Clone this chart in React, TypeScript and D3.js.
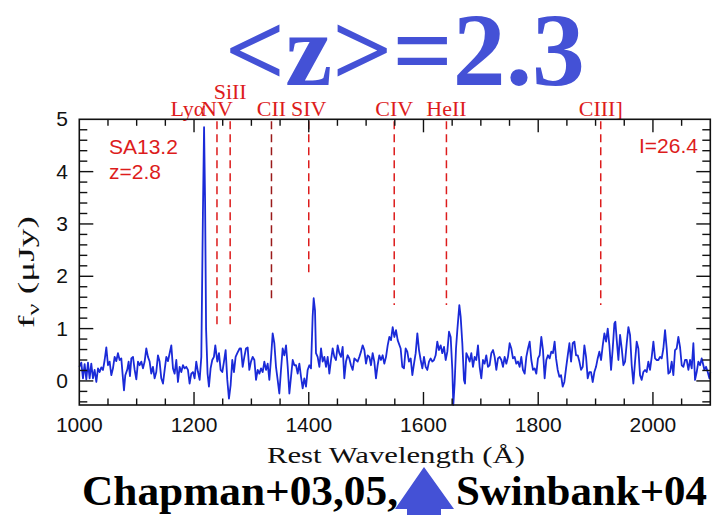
import React from "react";
import * as d3 from "d3";

// Spectrum: [rest wavelength (Å), f_nu (μJy)]
const SPECTRUM: [number, number][] = [
  [1000,0.27],[1003.5,0.35],[1006.4,0.05],[1009.3,0.32],[1012.2,0.03],[1015.1,0.35],[1018,0.05],[1020.9,0.33],[1023.8,0.05],[1026.7,0.21],
  [1029.7,-0.02],[1032.6,0.24],[1035.5,0.17],[1038.4,0.26],[1041.3,0.21],[1044.2,0.40],[1047.1,0.64],[1050,0.30],[1052.9,0.37],[1055.8,0.11],
  [1058.7,0.24],[1061.6,0.46],[1064.5,0.38],[1067.4,0.53],[1070.3,0.40],[1073.2,0.43],[1076.1,0.05],[1077.9,-0.18],[1080.2,0.11],[1083.7,0.22],
  [1086,0.37],[1088.3,0.09],[1090.7,0.43],[1093.6,0.46],[1096.5,0.21],[1099.4,0.03],[1102.3,0.37],[1105.2,0.30],[1108.1,0.37],[1111,0.24],
  [1113.9,0.37],[1116.8,0.62],[1119.7,0.46],[1122.6,0.37],[1125.5,0.14],[1128.4,0.27],[1131.3,0.05],[1134.2,0.17],[1137.1,0.49],[1140,0.37],
  [1142.9,0.05],[1145.9,-0.05],[1148.8,0.21],[1151.7,0.46],[1154.6,0.38],[1157.5,0.53],[1160.4,0.68],[1163.3,0.24],[1166.2,0.14],[1169.1,0.40],
  [1172,-0.02],[1174.9,0.27],[1177.8,0.17],[1180.7,0.30],[1183.6,0.24],[1186.5,0.27],[1189.4,0.21],[1192.3,-0.05],[1195.2,0.14],[1198.1,0.17],
  [1201,0.05],[1203.9,0.37],[1206.9,0.17],[1209.8,0.02],[1212.7,0.46],[1215.5,3.2],[1217.5,4.85],[1219.3,3.4],[1221,1.0],[1223.6,0.14],
  [1226,-0.11],[1228.9,0.24],[1231.8,0.40],[1234.7,0.46],[1237.1,0.68],[1240.6,0.37],[1243.5,0.53],[1246.4,0.21],[1249.3,0.17],[1252.2,0.37],
  [1255.1,0.59],[1258,0.02],[1260.9,-0.34],[1263.8,-0.08],[1266.7,0.40],[1269.6,0.17],[1272.5,0.46],[1275.4,0.53],[1279.5,0.62],
  [1281.9,0.62],[1284.8,0.27],[1287.7,0.46],[1290.6,0.62],[1293.5,0.64],[1296.4,0.21],[1299.3,0.37],[1302.3,0.46],[1305.2,0.40],[1308.1,0.02],
  [1311,0.21],[1313.9,0.14],[1316.8,0.24],[1319.7,0.17],[1322.6,0.37],[1325.5,0.21],[1328.4,0.33],[1331.3,0.02],[1334.2,0.43],[1337.1,0.91],
  [1340,0.72],[1342.9,0.27],[1345.8,0.02],[1348.7,-0.24],[1351.6,0.21],[1354.5,0.62],[1357.4,0.49],[1360.4,0.68],[1363.3,0.27],[1366.2,-0.24],
  [1369.1,0.08],[1372,0.40],[1374.9,0.30],[1377.8,0.30],[1380.7,0.14],[1383.6,0.33],[1386.5,0.08],[1389.4,-0.14],[1392.3,0.05],[1395.2,-0.11],
  [1398.1,0.21],[1401,0.30],[1403.9,0.24],[1406.8,1.23],[1408.6,1.58],[1410.9,1.35],[1412.6,0.53],[1415.5,0.46],[1418.5,0.27],[1421.4,0.62],
  [1424.3,0.37],[1427.2,0.46],[1430.1,0.27],[1433,0.46],[1435.9,0.14],[1438.8,0.40],[1441.7,0.62],[1444.6,0.46],[1447.5,0.40],[1450.4,0.68],
  [1453.3,0.53],[1456.2,0.46],[1459.1,0.65],[1462,0.05],[1464.9,0.37],[1467.8,0.49],[1470.7,0.43],[1473.6,0.30],[1476.6,0.21],[1479.5,0.43],
  [1482.4,0.40],[1485.3,0.37],[1488.2,0.46],[1491.1,0.56],[1494,0.68],[1496.9,0.59],[1499.8,0.33],[1502.7,0.49],[1505.6,0.46],[1508.5,0.30],
  [1511.4,0.53],[1514.3,0.37],[1517.2,0.05],[1520.1,0.30],[1523,0.49],[1525.9,0.40],[1528.8,0.49],[1531.7,0.33],[1534.7,0.46],[1537.6,0.68],
  [1540.5,0.84],[1543.4,0.78],[1546.3,1.03],[1549.2,0.84],[1552.1,0.97],[1555,0.78],
  [1560.2,0.62],[1563.1,0.27],[1566,0.24],[1568.9,0.62],[1571.8,0.56],[1574.7,0.37],[1577.7,0.43],[1580.6,0.11],[1583.5,0.33],[1586.4,0.53],
  [1589.3,0.91],[1592.2,0.59],[1595.1,0.40],[1598,0.24],[1600.9,0.46],[1603.8,0.27],[1606.7,0.21],[1609.6,0.37],[1612.5,0.43],[1615.4,0.37],
  [1618.3,0.40],[1621.2,0.49],[1624.1,0.75],[1627,0.59],[1630,0.68],[1632.8,0.53],[1635.8,0.65],[1638.7,0.40],[1641.6,0.56],[1644.5,0.94],
  [1647.4,0.84],[1650.3,0.21],[1652,-0.46],[1654.3,-0.05],[1656.7,0.62],[1659,0.97],[1662.5,1.45],[1664.8,1.23],[1667.7,0.72],[1670.6,0.02],
  [1672.4,-0.05],[1674.7,0.53],[1677.6,0.46],[1680.5,0.37],[1683.4,0.53],[1686.3,0.27],[1689.2,0.46],[1692.1,0.40],[1695,0.68],[1697.9,0.27],
  [1700.8,0.05],[1703.7,0.40],[1706.6,0.33],[1709.5,0.49],[1712.4,0.27],[1715.3,0.30],[1718.3,0.53],[1721.2,0.59],[1724.1,0.46],[1727,0.21],
  [1729.9,0.43],[1732.8,0.46],[1735.7,0.40],[1738.6,0.27],[1741.5,0.46],[1744.4,0.33],[1747.3,0.46],[1750.2,0.72],[1753.1,0.62],[1756,0.43],
  [1758.9,0.46],[1761.8,0.33],[1764.7,0.37],[1767.6,0.27],[1770.5,0.46],[1773.4,0.21],[1776.4,0.14],[1779.3,0.46],[1782.2,0.62],[1785.1,0.75],
  [1788,0.40],[1790.9,0.21],[1793.8,0.24],[1796.7,0.14],[1799.6,0.43],[1802.5,0.49],[1805.4,0.84],[1808.3,0.59],[1811.2,0.05],[1814.1,0.40],
  [1817,0.49],[1819.9,0.43],[1822.8,0.56],[1825.7,0.53],[1828.6,0.75],
  [1831.1,0.43],[1834,0.21],[1836.9,0.08],[1839.8,0.11],[1842.7,-0.11],[1845.6,-0.02],[1848.5,0.24],[1851.5,0.49],[1854.4,0.72],[1857.3,0.37],
  [1860.2,0.72],[1863.1,0.75],[1866,0.49],[1868.9,0.49],[1871.8,0.37],[1874.7,0.21],[1877.6,0.27],[1880.5,0.68],[1883.4,0.46],[1886.3,0.05],
  [1889.2,0.17],[1892.1,0.17],[1895,-0.02],[1897.9,0.17],[1900.8,0.27],[1903.7,0.43],[1906.6,0.56],[1909.6,0.40],[1912.5,0.68],[1915.4,0.91],
  [1918.3,0.75],[1921.2,1.00],[1924.1,0.68],[1927,0.21],[1929.9,0.62],[1932.8,1.10],[1934.5,1.13],[1936.9,0.78],[1939.8,0.40],[1942.7,0.88],
  [1945.6,0.62],[1948.5,0.30],[1951.4,0.37],[1954.3,0.72],[1957.2,1.03],[1960.1,0.88],[1963,0.30],[1965.9,-0.05],[1968.8,0.37],[1971.7,0.75],
  [1974.6,0.62],[1977.5,0.11],[1980.4,0.02],[1983.3,0.17],[1986.2,0.21],[1989.1,0.17],[1992,0.37],[1994.9,0.21],[1997.9,0.46],[2000.8,0.75],
  [2003.7,0.43],[2006.6,0.40],[2009.5,0.40],[2012.4,0.46],[2015.3,0.43],[2018.2,0.62],[2021.1,0.97],[2024,0.62],[2026.9,0.14],[2029.8,0.17],
  [2032.7,0.37],[2035.6,0.11],[2038.5,0.59],[2041.4,0.62],[2044.3,0.84],[2047.2,0.65],[2050.2,0.30],[2053.1,0.27],[2056,0.40],[2058.9,0.40],
  [2061.8,0.21],[2064.7,0.40],[2067.6,0.24],[2070.5,0.72],[2073.4,0.02],[2076.3,0.17],[2079.2,0.37],[2082.1,0.30],[2085,0.43],[2087.9,0.30],
  [2089.7,0.21],[2092.6,0.27],[2095.5,0.17],[2098.4,0.05],[2100,0.17],
];

// Emission/absorption line markers
const LINE_NAMES = ["Lyα", "NV", "SiII", "CII", "SIV", "CIV", "HeII", "CIII]"];
const LINE_WAVELENGTHS = [1216, 1240, 1263, 1335, 1400, 1549, 1640, 1909];
const LINE_BOTTOMS = [null, 1.0, 1.0, 1.55, 2.05, 1.45, 1.45, 1.45];

const X_TICK_LABELS = [1000, 1200, 1400, 1600, 1800, 2000];
const Y_TICK_LABELS = [0, 1, 2, 3, 4, 5];
const X_DOMAIN = [1000, 2100];
const Y_DOMAIN = [-0.46, 5];

const W = 713;
const H = 515;
const L = 79.3, R = 710.3, T = 119.3, B = 405;

const RED = "#dd1c1c";
const BLUE = "#4451d6";

export default function App() {
  const x = d3.scaleLinear().domain(X_DOMAIN).range([L, R]);
  const y = d3.scaleLinear().domain(Y_DOMAIN).range([B, T]);
  const line = d3
    .line<[number, number]>()
    .x((d) => x(d[0]))
    .y((d) => y(d[1]));

  const xMinor = d3.range(1050, 2100, 50).filter((v) => v % 200 !== 0);
  const xMajor = X_TICK_LABELS.slice(1);
  const yMinor = d3
    .range(-0.4, 5.0001, 0.2)
    .map((v) => Math.round(v * 10) / 10)
    .filter((v) => Math.abs(v - Math.round(v)) > 1e-6);
  const yMajor = Y_TICK_LABELS.slice(0, 5);

  const serif = "'Liberation Serif', 'Times New Roman', serif";
  const sans = "'Liberation Sans', Arial, sans-serif";

  return (
    <svg
      width={W}
      height={H}
      viewBox={`0 0 ${W} ${H}`}
      style={{ position: "absolute", left: 0, top: 0, background: "#fff" }}
    >
      <rect x={0} y={0} width={W} height={H} fill="#fff" />
      {/* Title */}
      <text x={405} y={85} textAnchor="middle" fontFamily={serif} fontWeight="bold" fontSize={104} fill={BLUE} textLength={360} lengthAdjust="spacingAndGlyphs">
        {"<z>=2.3"}
      </text>

      {/* line markers */}
      {LINE_NAMES.map((name, i) => {
        const lx = x(LINE_WAVELENGTHS[i]);
        const bottom = LINE_BOTTOMS[i];
        const isLya = i === 0;
        const labelY = name === "SiII" ? 99 : 116;
        return (
          <g key={name}>
            {bottom !== null && (
              <line
                x1={lx}
                x2={lx}
                y1={T + 2}
                y2={y(bottom as number)}
                stroke={name === "CII" ? "#9a1a1a" : RED}
                strokeWidth={1.5}
                strokeDasharray="8,5"
              />
            )}
            <text
              x={isLya ? lx + 2 : lx}
              y={labelY}
              textAnchor={isLya ? "end" : "middle"}
              fontFamily={serif}
              fontSize={22}
              fill={RED}
            >
              {name}
            </text>
          </g>
        );
      })}

      {/* spectrum */}
      <path d={line(SPECTRUM) || ""} fill="none" stroke="#1a2ad8" strokeWidth={1.8} strokeLinejoin="round" />

      {/* frame */}
      <rect x={L} y={T} width={R - L} height={B - T} fill="none" stroke="#111" strokeWidth={1.6} />

      {/* x ticks */}
      {xMinor.map((v) => (
        <g key={"xm" + v}>
          <line x1={x(v)} x2={x(v)} y1={B} y2={B - 6.5} stroke="#111" strokeWidth={1.4} />
          <line x1={x(v)} x2={x(v)} y1={T} y2={T + 6.5} stroke="#111" strokeWidth={1.4} />
        </g>
      ))}
      {xMajor.map((v) => (
        <g key={"xM" + v}>
          <line x1={x(v)} x2={x(v)} y1={B} y2={B - 13} stroke="#111" strokeWidth={1.4} />
          <line x1={x(v)} x2={x(v)} y1={T} y2={T + 13} stroke="#111" strokeWidth={1.4} />
        </g>
      ))}
      {X_TICK_LABELS.map((v) => (
        <text key={"xl" + v} x={x(v)} y={432} textAnchor="middle" fontFamily={sans} fontSize={21} fill="#111">
          {v}
        </text>
      ))}

      {/* y ticks */}
      {yMinor.map((v) => (
        <g key={"ym" + v}>
          <line x1={L} x2={L + 8} y1={y(v)} y2={y(v)} stroke="#111" strokeWidth={1.4} />
          <line x1={R} x2={R - 8} y1={y(v)} y2={y(v)} stroke="#111" strokeWidth={1.4} />
        </g>
      ))}
      {yMajor.map((v) => (
        <g key={"yM" + v}>
          <line x1={L} x2={L + 14} y1={y(v)} y2={y(v)} stroke="#111" strokeWidth={1.4} />
          <line x1={R} x2={R - 14} y1={y(v)} y2={y(v)} stroke="#111" strokeWidth={1.4} />
        </g>
      ))}
      {Y_TICK_LABELS.map((v) => (
        <text key={"yl" + v} x={62} y={y(v) + 7} textAnchor="middle" fontFamily={sans} fontSize={21} fill="#111">
          {v}
        </text>
      ))}

      {/* annotations */}
      <text x={109} y={154} fontFamily={sans} fontSize={21} fill={RED}>SA13.2</text>
      <text x={109} y={179} fontFamily={sans} fontSize={21} fill={RED}>z=2.8</text>
      <text x={698} y={153} textAnchor="end" fontFamily={sans} fontSize={21} fill={RED}>I=26.4</text>

      {/* axis titles */}
      <text
        transform={`translate(34, ${272}) rotate(-90)`}
        textAnchor="middle"
        fontFamily={serif}
        fontSize={24}
        fill="#111"
        textLength={112}
        lengthAdjust="spacingAndGlyphs"
      >
        f<tspan fontSize={17} dy={5}>ν</tspan>
        <tspan dy={-5}>{"  (μJy)"}</tspan>
      </text>
      <text x={396} y={463} textAnchor="middle" fontFamily={serif} fontSize={23} fill="#111" textLength={258} lengthAdjust="spacingAndGlyphs">
        Rest Wavelength (Å)
      </text>

      {/* bottom credits */}
      <text x={82} y={505} fontFamily={serif} fontWeight="bold" fontSize={43} fill="#000" textLength={316} lengthAdjust="spacingAndGlyphs">
        Chapman+03,05,
      </text>
      <text x={456} y={505} fontFamily={serif} fontWeight="bold" fontSize={43} fill="#000" textLength={251} lengthAdjust="spacingAndGlyphs">
        Swinbank+04
      </text>
      <path d="M424,467 L454,509 L441,509 L441,515 L407,515 L407,509 L395,509 Z" fill={BLUE} />
    </svg>
  );
}
